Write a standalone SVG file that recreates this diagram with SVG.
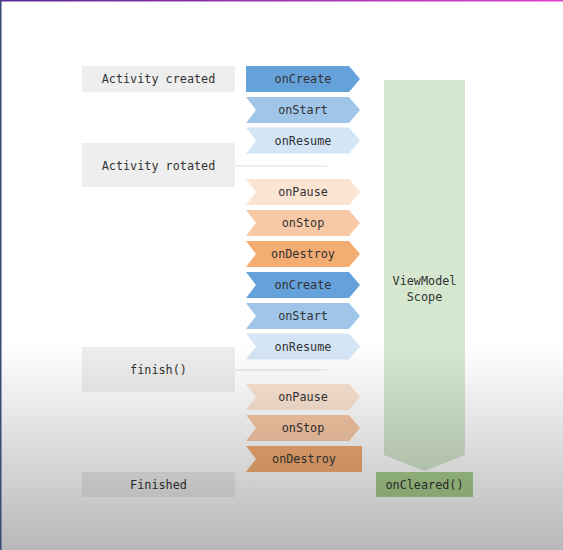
<svg xmlns="http://www.w3.org/2000/svg" width="563" height="550" viewBox="0 0 563 550">
<defs>
<style>
text{font-family:"DejaVu Sans Mono","Liberation Mono",monospace;font-size:11.8px;fill:#333;text-anchor:middle;dominant-baseline:central}
.box{fill:#eeeeee}
.c{fill:#65a1da}.s{fill:#9fc5e8}.r{fill:#d4e5f5}
.p{fill:#fce4d2}.t{fill:#f8c9a6}.d{fill:#f3ac72}
.ln{stroke:#dddddd;stroke-width:1.2}
</style>
<linearGradient id="shade" x1="0" y1="0" x2="0" y2="1">
<stop offset="0" stop-color="#000" stop-opacity="0"/>
<stop offset="1" stop-color="#000" stop-opacity="0.28"/>
</linearGradient>
<linearGradient id="topb" x1="0" y1="0" x2="1" y2="0">
<stop offset="0" stop-color="#5a2a9a"/>
<stop offset="1" stop-color="#e040c8"/>
</linearGradient>
</defs>
<rect width="563" height="550" fill="#ffffff"/>
<g id="scope">
<polygon points="384,80 465,80 465,455 424.5,471 384,455" fill="#d5e8cf"/>
<text x="424.5" y="281">ViewModel</text>
<text x="424.5" y="297">Scope</text>
</g>
<g id="connectors">
<line class="ln" x1="235" y1="166" x2="327" y2="166"/>
<line class="ln" x1="235" y1="370" x2="327" y2="370"/>
</g>
<g id="activity-created"><rect class="box" x="82" y="66" width="153" height="26"/><text x="158.5" y="79">Activity created</text></g>
<g id="activity-rotated"><rect class="box" x="82" y="143" width="153" height="44"/><text x="158.5" y="166">Activity rotated</text></g>
<g id="finish"><rect class="box" x="82" y="347" width="153" height="45"/><text x="158.5" y="370">finish()</text></g>
<g id="finished"><rect class="box" x="82" y="472" width="153" height="25"/><text x="158.5" y="485">Finished</text></g>
<g id="onCreate1"><polygon class="c" points="246,66 349,66 360,79 349,92 246,92"/><text x="303" y="79">onCreate</text></g>
<g id="onStart1"><polygon class="s" points="246,97 349,97 360,110 349,123 246,123 256,110"/><text x="303" y="110">onStart</text></g>
<g id="onResume1"><polygon class="r" points="246,127.5 349,127.5 360,140.5 349,153.5 246,153.5 256,140.5"/><text x="303" y="140.5">onResume</text></g>
<g id="onPause1"><polygon class="p" points="246,179 349,179 360,192 349,205 246,205 256,192"/><text x="303" y="192">onPause</text></g>
<g id="onStop1"><polygon class="t" points="246,210 349,210 360,223 349,236 246,236 256,223"/><text x="303" y="223">onStop</text></g>
<g id="onDestroy1"><polygon class="d" points="246,241 349,241 360,254 349,267 246,267 256,254"/><text x="303" y="254">onDestroy</text></g>
<g id="onCreate2"><polygon class="c" points="246,272 349,272 360,285 349,298 246,298 256,285"/><text x="303" y="285">onCreate</text></g>
<g id="onStart2"><polygon class="s" points="246,303 349,303 360,316 349,329 246,329 256,316"/><text x="303" y="316">onStart</text></g>
<g id="onResume2"><polygon class="r" points="246,333.5 349,333.5 360,346.5 349,359.5 246,359.5 256,346.5"/><text x="303" y="346.5">onResume</text></g>
<g id="onPause2"><polygon class="p" points="246,384 349,384 360,397 349,410 246,410 256,397"/><text x="303" y="397">onPause</text></g>
<g id="onStop2"><polygon class="t" points="246,415 349,415 360,428 349,441 246,441 256,428"/><text x="303" y="428">onStop</text></g>
<g id="onDestroy2"><polygon class="d" points="246,446 362,446 362,472 246,472 256,459"/><text x="304" y="459">onDestroy</text></g>
<g id="onCleared"><rect x="376" y="472" width="97" height="25" fill="#a9d08e"/><text x="424.5" y="485">onCleared()</text></g>
<rect x="0" y="345" width="563" height="205" fill="url(#shade)"/>
<rect x="0" y="0" width="563" height="1.5" fill="url(#topb)"/>
<rect x="0" y="0" width="1.5" height="550" fill="#3a4a7a"/>
</svg>
